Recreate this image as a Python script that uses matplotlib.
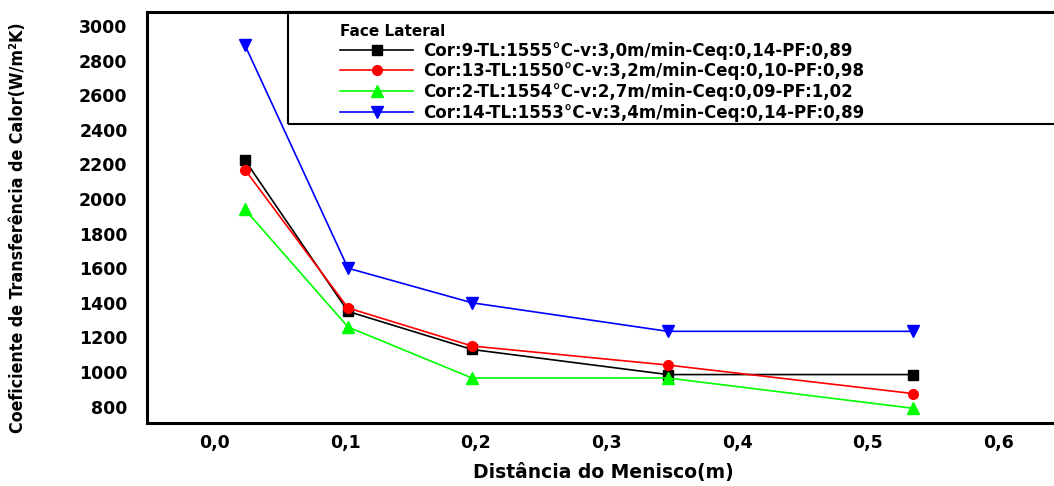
import numpy as np
import matplotlib.pyplot as plt
from matplotlib.patches import Rectangle

# Distância do menisco (m)
distancia = [0.023, 0.102, 0.197, 0.347, 0.535]

# Coeficiente de transferência de calor (W/m2K) por corrida
cor9 = [2225, 1350, 1130, 985, 985]
cor13 = [2170, 1370, 1150, 1040, 875]
cor2 = [1940, 1260, 965, 965, 790]
cor14 = [2890, 1600, 1400, 1235, 1235]

labels = [
    "Cor:9-TL:1555°C-v:3,0m/min-Ceq:0,14-PF:0,89",
    "Cor:13-TL:1550°C-v:3,2m/min-Ceq:0,10-PF:0,98",
    "Cor:2-TL:1554°C-v:2,7m/min-Ceq:0,09-PF:1,02",
    "Cor:14-TL:1553°C-v:3,4m/min-Ceq:0,14-PF:0,89",
]
yticks = [800, 1000, 1200, 1400, 1600, 1800, 2000, 2200, 2400, 2600, 2800, 3000]
xticks = [0.0, 0.1, 0.2, 0.3, 0.4, 0.5, 0.6]

plt.rcParams['font.family'] = ['DejaVu Sans']
plt.rcParams['font.weight'] = 'bold'

fig = plt.figure(figsize=(10.54, 4.86), dpi=100)
ax = fig.add_axes([147/1054, 63/486, 913/1054, 411/486])

series = [
    (cor9, "black", "s", 7),
    (cor13, "red", "o", 7),
    (cor2, "#00ff00", "^", 9),
    (cor14, "blue", "v", 9),
]
for (vals, color, mk, ms), lab in zip(series, labels):
    ax.plot(distancia, vals, color=color, marker=mk, markersize=ms, linewidth=1.2,
            markeredgecolor=color, label=lab)

ax.set_xlim(-0.052, 0.6475)
ax.set_ylim(705, 3081)
ax.set_xticks(xticks)
ax.set_xticklabels([f"{t:.1f}".replace(".", ",") for t in xticks])
ax.set_yticks(yticks)
ax.tick_params(axis='both', length=0, labelsize=12.5)
ax.tick_params(axis='y', pad=14)
ax.tick_params(axis='x', pad=8)
for sp in ax.spines.values():
    sp.set_linewidth(2.2)
    sp.set_color("black")

ax.set_xlabel("Distância do Menisco(m)", fontsize=13.5, fontweight='bold', labelpad=8)
ax.set_ylabel("Coeficiente de Transferência de Calor(W/m²K)", fontsize=12.8, fontweight='bold',
              fontstretch='condensed')
ax.yaxis.set_label_coords(-0.131, 0.474)

# legend frame box (runs off the right edge like the original)
ax.add_patch(Rectangle((0.1545, 0.727), 0.9, 0.273, transform=ax.transAxes, fill=False,
                       edgecolor="black", linewidth=1.5, clip_on=False, zorder=1))
leg = ax.legend(loc="upper left", bbox_to_anchor=(0.205, 0.985),
                borderaxespad=0, frameon=False,
                title="Face Lateral", fontsize=12, title_fontsize=11,
                labelspacing=0.16, handlelength=4.4, handletextpad=0.6,
                borderpad=0.35, alignment="left")
leg.get_title().set_fontweight('bold')

fig.savefig("out.png", dpi=100)
